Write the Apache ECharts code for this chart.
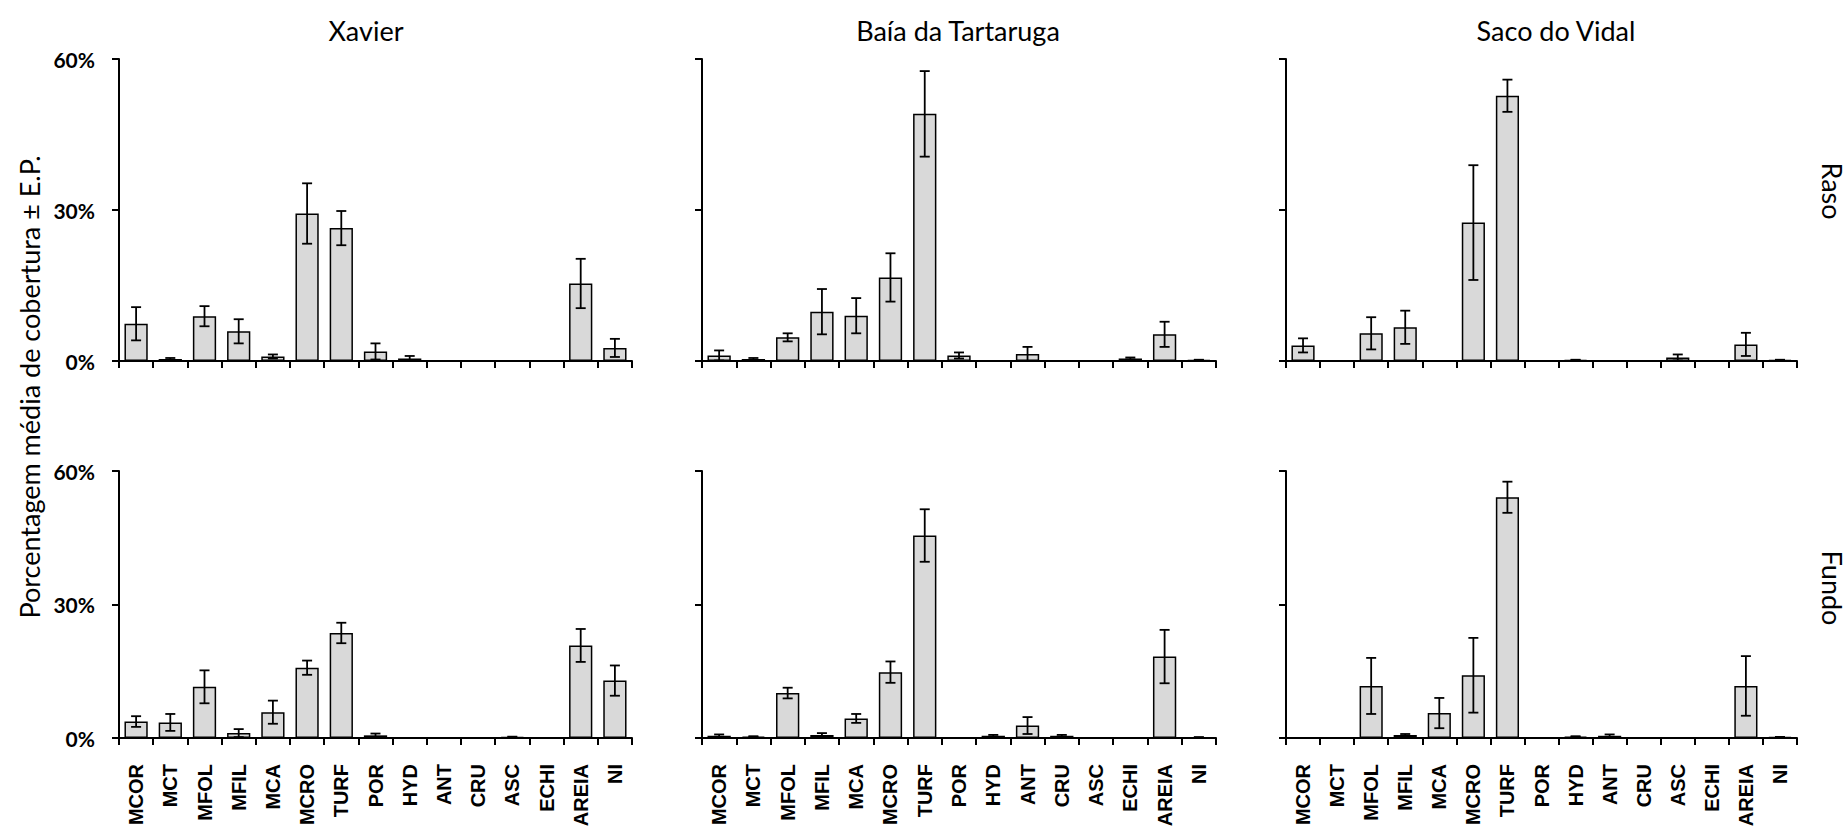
<!DOCTYPE html>
<html><head><meta charset="utf-8">
<script src="https://cdn.jsdelivr.net/npm/echarts@6/dist/echarts.min.js"></script>
<style>html,body{margin:0;padding:0;background:#fff}#c{width:1848px;height:832px}</style>
</head><body><div id="c"></div>
<script>
const categories = ['MCOR','MCT','MFOL','MFIL','MCA','MCRO','TURF','POR','HYD','ANT','CRU','ASC','ECHI','AREIA','NI'];
const sites = ['Xavier','Baía da Tartaruga','Saco do Vidal'];
const depths = ['Raso','Fundo'];
const yTickLabels = ['0%','30%','60%'];

// Raso (shallow)
const xavierRasoMean = [7.4,0.4,8.9,5.9,0.9,29.3,26.4,1.9,0.5,0,0,0,0,15.4,2.6];
const xavierRasoSE   = [3.3,0.2,2.0,2.4,0.4,6.0,3.4,1.6,0.5,0,0,0,0,4.9,1.8];
const baiaRasoMean   = [1.1,0.4,4.7,9.8,9.0,16.6,49.1,1.1,0,1.4,0,0,0.5,5.3,0.2];
const baiaRasoSE     = [1.0,0.2,0.8,4.5,3.5,4.8,8.5,0.6,0,1.4,0,0,0.2,2.5,0.05];
const sacoRasoMean   = [3.1,0,5.5,6.7,0,27.5,52.7,0,0.2,0,0,0.7,0,3.3,0.2];
const sacoRasoSE     = [1.4,0,3.2,3.3,0,11.4,3.2,0,0.05,0,0,0.6,0,2.3,0.05];
// Fundo (deep)
const xavierFundoMean = [3.7,3.5,11.5,1.1,5.8,15.8,23.6,0.6,0,0,0,0.2,0,20.8,12.9];
const xavierFundoSE   = [1.2,1.9,3.7,0.9,2.6,1.6,2.3,0.4,0,0,0,0.1,0,3.7,3.4];
const baiaFundoMean   = [0.5,0.3,10.1,0.7,4.4,14.8,45.5,0,0.5,2.8,0.5,0,0,18.3,0.15];
const baiaFundoSE     = [0.3,0.1,1.2,0.4,1.0,2.4,5.9,0,0.2,1.9,0.2,0,0,6.0,0.05];
const sacoFundoMean   = [0,0,11.7,0.7,5.6,14.1,54.1,0,0.3,0.5,0,0,0,11.7,0.2];
const sacoFundoSE     = [0,0,6.3,0.2,3.4,8.4,3.5,0,0.1,0.3,0,0,0,6.7,0.05];

const panels = [
  [xavierRasoMean, xavierRasoSE], [baiaRasoMean, baiaRasoSE], [sacoRasoMean, sacoRasoSE],
  [xavierFundoMean, xavierFundoSE], [baiaFundoMean, baiaFundoSE], [sacoFundoMean, sacoFundoSE]
];

const colLeft = [119, 702, 1286];
const colWidth = [513, 514, 511];
const rowTop = [59, 471];
const rowHeight = [302, 267];

const grids = [], xAxes = [], yAxes = [], series = [];
panels.forEach((p, k) => {
  const row = Math.floor(k / 3), col = k % 3;
  grids.push({left: colLeft[col], top: rowTop[row], width: colWidth[col], height: rowHeight[row], outerBoundsMode: 'none', containLabel: false});
  xAxes.push({
    gridIndex: k, type: 'category', data: categories,
    axisLine: {lineStyle: {color: '#000', width: 2}},
    axisTick: {show: true, inside: false, length: 7, lineStyle: {color: '#000', width: 2}},
    axisLabel: {show: row === 1, rotate: 90, interval: 0, margin: 26, color: '#000',
      fontFamily: 'Liberation Sans', fontWeight: 'bold', fontSize: 20},
    splitLine: {show: false}
  });
  yAxes.push({
    gridIndex: k, type: 'value', min: 0, max: 60, interval: 30,
    axisLine: {show: true, lineStyle: {color: '#000', width: 2}},
    axisTick: {show: true, inside: false, length: 7, lineStyle: {color: '#000', width: 2}},
    axisLabel: {show: col === 0, margin: 24, color: '#000', fontFamily: 'Lato', fontWeight: 'bold', fontSize: 21,
      formatter: v => yTickLabels[v / 30]},
    splitLine: {show: false}
  });
  series.push({
    type: 'bar', xAxisIndex: k, yAxisIndex: k, data: p[0], barWidth: '68%',
    itemStyle: {color: '#d9d9d9', borderColor: '#000', borderWidth: 1.5},
    silent: true, animation: false
  });
  series.push({
    type: 'custom', xAxisIndex: k, yAxisIndex: k, z: 10, animation: false, silent: true,
    data: p[0].map((m, i) => [i, Math.max(0, m - p[1][i]), m + p[1][i], m]),
    encode: {x: 0, y: [1, 2]},
    renderItem: (params, api) => {
      if (api.value(3) === 0) return null;
      const x = api.value(0);
      const lo = api.coord([x, api.value(1)]);
      const hi = api.coord([x, api.value(2)]);
      const hw = 5;
      const st = {stroke: '#000', lineWidth: 1.8};
      return {type: 'group', children: [
        {type: 'line', shape: {x1: lo[0], y1: lo[1], x2: hi[0], y2: hi[1]}, style: st},
        {type: 'line', shape: {x1: lo[0] - hw, y1: lo[1], x2: lo[0] + hw, y2: lo[1]}, style: st},
        {type: 'line', shape: {x1: hi[0] - hw, y1: hi[1], x2: hi[0] + hw, y2: hi[1]}, style: st}
      ]};
    }
  });
});

const titleX = [366, 958, 1556];
const graphic = [];
sites.forEach((s, i) => graphic.push({type: 'text', x: titleX[i], y: 30,
  style: {text: s, fill: '#000', font: '27px Lato', textAlign: 'center', textVerticalAlign: 'middle'}}));
const depthY = [191, 588];
depths.forEach((d, i) => graphic.push({type: 'text', x: 1832, y: depthY[i], rotation: -Math.PI / 2,
  style: {text: d, fill: '#000', font: '27px Lato', textAlign: 'center', textVerticalAlign: 'middle'}}));
graphic.push({type: 'text', x: 29, y: 387, rotation: Math.PI / 2,
  style: {text: 'Porcentagem média de cobertura ± E.P.', fill: '#000', font: '27px Lato', textAlign: 'center', textVerticalAlign: 'middle'}});

const chart = echarts.init(document.getElementById('c'), null, {renderer: 'svg'});
chart.setOption({animation: false, backgroundColor: '#fff', grid: grids, xAxis: xAxes, yAxis: yAxes, series, graphic});
</script>
</body></html>
